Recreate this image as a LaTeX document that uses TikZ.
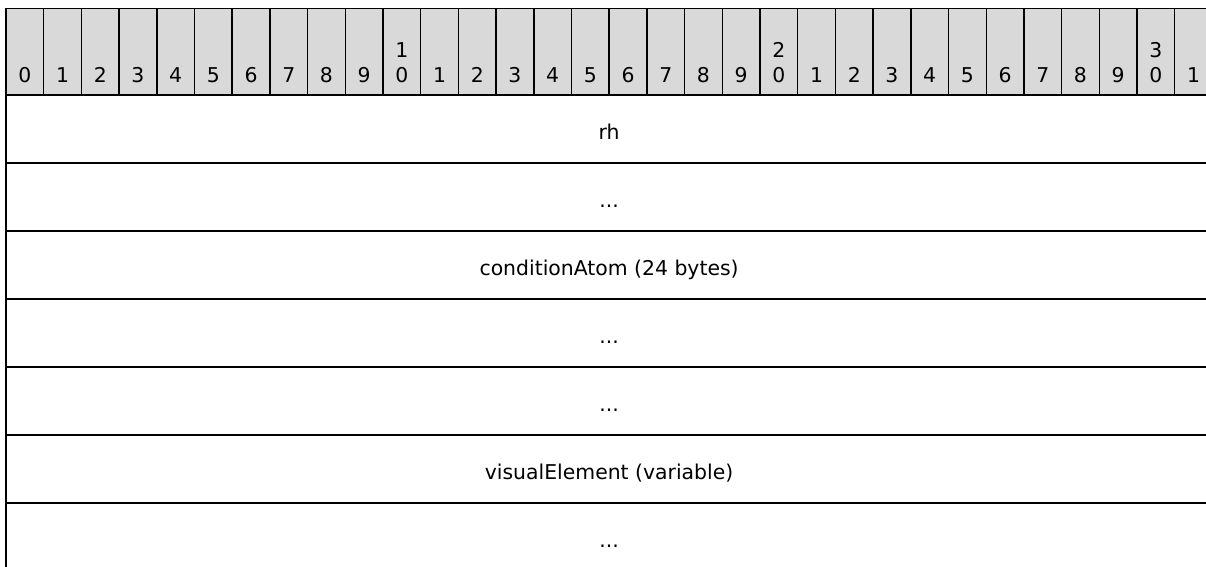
\documentclass[tikz,border=0pt]{standalone}
\usepackage{fontspec}
\setmainfont{DejaVu Sans}
\usepackage{xcolor}
\usepackage{tikz}
\definecolor{hdrgray}{RGB}{217,217,217}
\usetikzlibrary{positioning}

\begin{document}
\begin{tikzpicture}[
    x=0.02cm, y=-0.02cm,
    every node/.style={font=\fontsize{11.6}{14.2}\selectfont},
    hcell/.style={rectangle, draw, fill=hdrgray, line width=0.8pt, inner sep=0pt,
                  outer sep=0pt, anchor=north west,
                  minimum width=0.754cm, minimum height=1.73cm},
    bitnum/.style={inner sep=0pt, align=center},
    field/.style={rectangle, draw, line width=0.8pt, inner sep=0pt, outer sep=0pt,
                  anchor=north west, minimum width=24.128cm, minimum height=1.36cm,
                  text height=1.45em, text depth=0.25em}
]
    \useasboundingbox (0,0) rectangle (1206,567);
    \clip (0,0) rectangle (1206,567);
    % bit ruler
    \foreach \i in {0,...,31} {
        \pgfmathtruncatemacro{\ones}{mod(\i,10)}
        \pgfmathtruncatemacro{\tens}{\i/10}
        \node[hcell] (c\i) at ({6+37.7*\i},8.5) {};
        \ifnum\ones=0 \ifnum\i>0
            \node[bitnum, above=0.246cm of c\i.south] (n\i) {\tens\\0};
        \else
            \node[bitnum, above=0.246cm of c\i.south] (n\i) {\ones};
        \fi \else
            \node[bitnum, above=0.246cm of c\i.south] (n\i) {\ones};
        \fi
    }
    % fields
    \node[field] (f0) at (6,95)        {rh};
    \node[field] (f1) at (f0.south west) {...};
    \node[field] (f2) at (f1.south west) {conditionAtom (24 bytes)};
    \node[field] (f3) at (f2.south west) {...};
    \node[field] (f4) at (f3.south west) {...};
    \node[field] (f5) at (f4.south west) {visualElement (variable)};
    \node[field] (f6) at (f5.south west) {...};
\end{tikzpicture}
\end{document}
